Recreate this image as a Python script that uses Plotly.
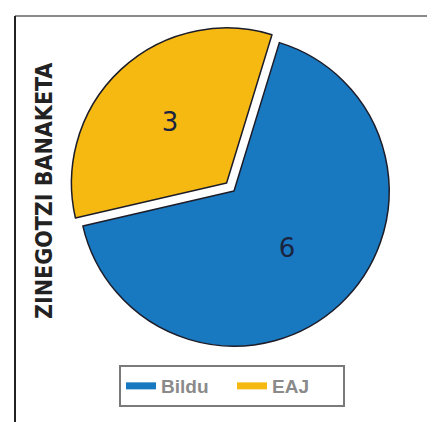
import plotly.graph_objects as go

parties = ["Bildu", "EAJ"]
seats = [6, 3]
colors = ["#1878c0", "#f6b912"]
pulls = [0, 0.07]
title_text = "ZINEGOTZI BANAKETA"

W, H = 435, 422
cx, cy, half = 226, 183, 166

fig = go.Figure()
fig.add_trace(go.Pie(
    labels=parties,
    values=seats,
    sort=False,
    direction="clockwise",
    rotation=17,
    pull=pulls,
    marker=dict(colors=colors, line=dict(color="#1c1c28", width=1.5)),
    textinfo="value",
    textposition="inside",
    insidetextorientation="horizontal",
    textfont=dict(size=26, color="#1a2440", family="DejaVu Sans"),
    showlegend=False,
    hoverinfo="label+value",
    domain=dict(x=[(cx - half) / W, (cx + half) / W], y=[1 - (cy + half) / H, 1 - (cy - half) / H]),
))

for name, c in zip(parties, colors):
    fig.add_trace(go.Scatter(
        x=[None], y=[None], mode="lines", name=name,
        line=dict(color=c, width=7), showlegend=True,
    ))

fig.update_layout(
    width=W, height=H,
    margin=dict(l=0, r=0, t=0, b=0),
    paper_bgcolor="white", plot_bgcolor="white",
    xaxis=dict(visible=False), yaxis=dict(visible=False),
    legend=dict(
        orientation="h", x=224 / W, xanchor="center", y=1 - 357 / H, yanchor="top",
        bordercolor="#7a7a7a", borderwidth=2, bgcolor="white",
        font=dict(size=19, color="#8a8a8a", family="Liberation Sans", weight="bold"),
        itemwidth=30, entrywidth=66,
    ),
    annotations=[dict(
        text="<b>" + title_text + "</b>", textangle=-90,
        x=36 / W, y=1 - 183 / H, xref="paper", yref="paper",
        xanchor="center", yanchor="middle", showarrow=False,
        font=dict(size=23, color="#222222", family="DejaVu Sans Condensed"),
    )],
    shapes=[
        dict(type="line", xref="paper", yref="paper", x0=7 / W, x1=1, y0=1 - 8 / H, y1=1 - 8 / H,
             line=dict(color="#8a8a8a", width=2)),
        dict(type="line", xref="paper", yref="paper", x0=7 / W, x1=7 / W, y0=1 - 8 / H, y1=0,
             line=dict(color="#222222", width=2)),
    ],
)

fig.write_html("out.html")
